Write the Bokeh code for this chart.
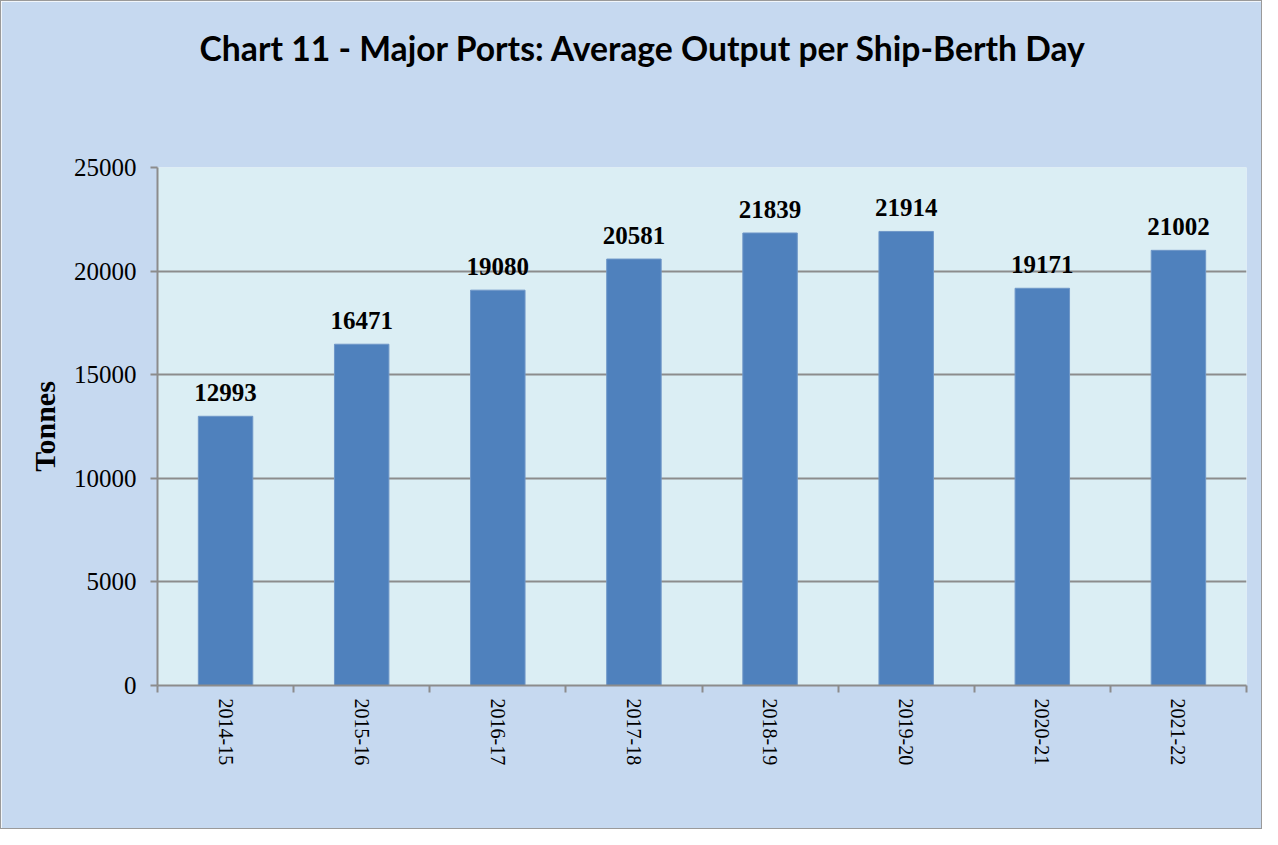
import math
from bokeh.plotting import figure
from bokeh.models import Range1d, FixedTicker, ColumnDataSource, LabelSet, Title
from bokeh.embed import file_html
from bokeh.resources import INLINE

categories = ["2014-15", "2015-16", "2016-17", "2017-18", "2018-19", "2019-20", "2020-21", "2021-22"]
values = [12993, 16471, 19080, 20581, 21839, 21914, 19171, 21002]
y_ticks = [0, 5000, 10000, 15000, 20000, 25000]
title_text = "Chart 11 - Major Ports: Average Output per Ship-Berth Day"
y_label = "Tonnes"

centers = [i + 0.5 for i in range(len(categories))]
src = ColumnDataSource(dict(x=centers, top=values, lbl=[str(v) for v in values]))

p = figure(width=1262, height=829, output_backend="svg", toolbar_location=None,
           x_range=Range1d(0, len(categories)), y_range=Range1d(0, 25000),
           min_border_left=156, min_border_right=17, min_border_top=166, min_border_bottom=145)
p.styles = {"border": "1px solid #9a9a9a"}
p.background_fill_color = "#DBEEF4"
p.border_fill_color = "#C6D9F0"
p.outline_line_color = None

p.title.text = title_text
p.title.align = "left"
p.title.offset = 42
p.title.text_font = "Lato"
p.title.text_font_style = "bold"
p.title.text_font_size = "33.7px"
p.title.text_color = "black"
p.title.standoff = 0

# empty spacer panel between the title and the plot frame
p.add_layout(Title(text=" ", text_font_size="1px", standoff=97), "above")

p.vbar(x="x", top="top", width=0.4, source=src, fill_color="#4F81BD", line_color="#6F97C8", line_width=1)

labels = LabelSet(x="x", y="top", text="lbl", source=src, text_align="center", text_baseline="bottom",
                  y_offset=15, text_font="Liberation Serif", text_font_style="bold",
                  text_font_size="25px", text_color="black")
p.add_layout(labels)

# y axis
p.yaxis.ticker = FixedTicker(ticks=y_ticks)
p.yaxis.axis_line_color = "#8C8C8C"
p.yaxis.axis_line_width = 2
p.yaxis.major_tick_line_color = "#8C8C8C"
p.yaxis.major_tick_line_width = 2
p.yaxis.major_tick_out = 7
p.yaxis.major_tick_in = 0
p.yaxis.minor_tick_line_color = None
p.yaxis.major_label_text_font = "Liberation Serif"
p.yaxis.major_label_text_font_size = "25px"
p.yaxis.major_label_text_color = "black"
p.yaxis.major_label_standoff = 14
p.yaxis.axis_label = y_label
p.yaxis.axis_label_text_font = "Liberation Serif"
p.yaxis.axis_label_text_font_style = "bold"
p.yaxis.axis_label_text_font_size = "30px"
p.yaxis.axis_label_text_color = "black"
p.yaxis.axis_label_standoff = 10

# x axis
p.xaxis.ticker = FixedTicker(ticks=centers, minor_ticks=list(range(len(categories) + 1)))
p.xaxis.major_label_overrides = {c: cat for c, cat in zip(centers, categories)}
p.xaxis.major_tick_line_color = None
p.xaxis.major_tick_out = 0
p.xaxis.major_tick_in = 0
p.xaxis.minor_tick_line_color = "#8C8C8C"
p.xaxis.minor_tick_line_width = 2
p.xaxis.minor_tick_out = 7
p.xaxis.minor_tick_in = 0
p.xaxis.axis_line_color = "#8C8C8C"
p.xaxis.axis_line_width = 2
p.xaxis.major_label_orientation = -math.pi / 2
p.xaxis.major_label_text_font = "Liberation Serif"
p.xaxis.major_label_text_font_size = "20px"
p.xaxis.major_label_text_color = "black"
p.xaxis.major_label_standoff = 6

p.xgrid.grid_line_color = None
p.ygrid.ticker = FixedTicker(ticks=y_ticks)
p.ygrid.grid_line_color = "#8C8C8C"
p.ygrid.grid_line_width = 2

open("out.html", "w").write(file_html(p, INLINE))
